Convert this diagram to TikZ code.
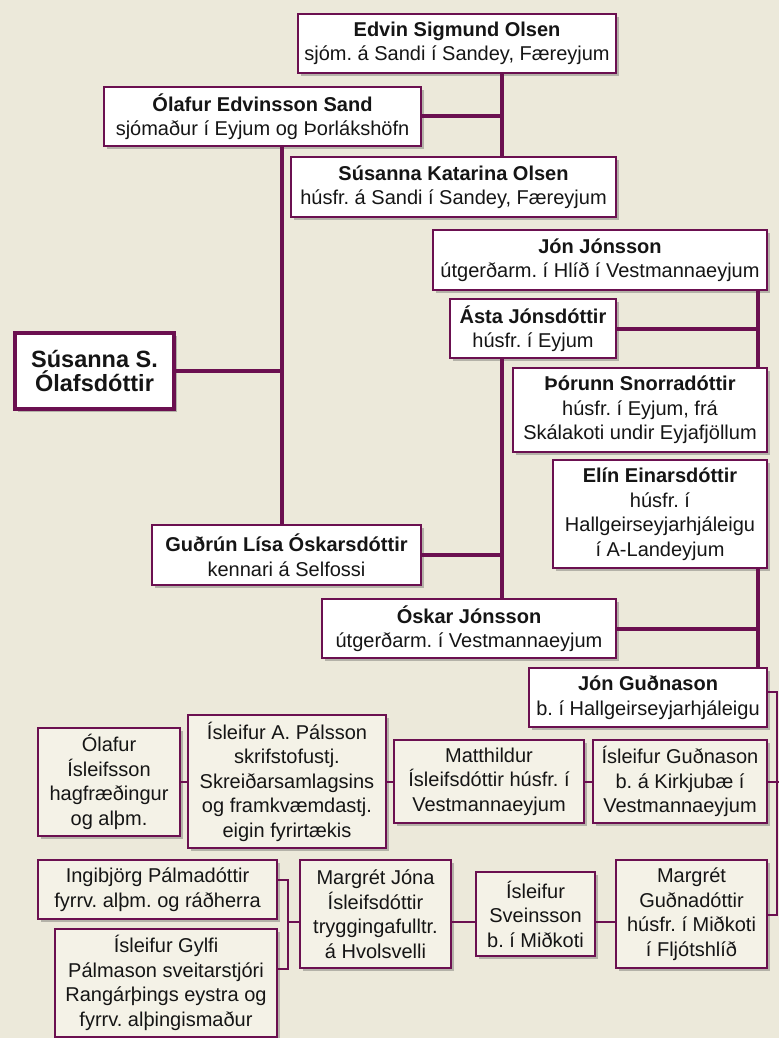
\documentclass[tikz,border=0pt]{standalone}
\usepackage{fontspec}
\setmainfont{Liberation Sans}
\usetikzlibrary{shadows}
\definecolor{bg}{HTML}{ECE9DA}
\definecolor{plum}{HTML}{6B1050}
\definecolor{cream}{HTML}{F4F2E7}
\definecolor{ink}{HTML}{151515}
\frenchspacing

\begin{document}
\begin{tikzpicture}[x=1pt, y=-1pt,
  card/.style={draw=plum, line width=1.3pt, align=center, inner sep=0pt, text=ink,
    font=\fontsize{20}{24.5}\selectfont,
    drop shadow={shadow xshift=3pt, shadow yshift=-3pt, opacity=.35, fill=black!70}},
  up/.style={card, fill=white},
  low/.style={card, fill=cream},
  link/.style={draw=plum, line width=4pt},
  thin/.style={draw=plum, line width=2pt}]
  \path[fill=bg] (0,0) rectangle (779,1038);
  % upper tree
  \node[up, minimum width=318pt, minimum height=59pt] (edvin) at (457,43.5) {\textbf{Edvin Sigmund Olsen}\\sjóm. á Sandi í Sandey, Færeyjum};
  \node[up, minimum width=317pt, minimum height=59pt] (olafE) at (262.5,116.5) {\textbf{Ólafur Edvinsson Sand}\\sjómaður í Eyjum og Þorlákshöfn};
  \node[up, minimum width=325pt, minimum height=60pt] (susK) at (453.5,187) {\textbf{Súsanna Katarina Olsen}\\húsfr. á Sandi í Sandey, Færeyjum};
  \node[up, minimum width=334pt, minimum height=60pt] (jonJ) at (600,260) {\textbf{Jón Jónsson}\\útgerðarm. í Hlíð í Vestmannaeyjum};
  \node[up, minimum width=166pt, minimum height=59pt] (asta) at (533,328.5) {\textbf{Ásta Jónsdóttir}\\húsfr. í Eyjum};
  \node[up, minimum width=254pt, minimum height=84pt] (thorunn) at (640,410) {\textbf{Þórunn Snorradóttir}\\húsfr. í Eyjum, frá\\Skálakoti undir Eyjafjöllum};
  \node[up, line width=3.5pt, minimum width=159pt, minimum height=76pt,
    font=\fontsize{23.5}{24}\selectfont\bfseries] (susS) at (94.5,371) {Súsanna S.\\Ólafsdóttir};
  \node[up, minimum width=214pt, minimum height=108pt] (elin) at (660,514) {\textbf{Elín Einarsdóttir}\\húsfr. í\\Hallgeirseyjarhjáleigu\\í A-Landeyjum};
  \node[up, minimum width=269pt, minimum height=60pt] (gudrun) at (286.5,555) {\textbf{Guðrún Lísa Óskarsdóttir}\\kennari á Selfossi};
  \node[up, minimum width=294pt, minimum height=59pt] (oskar) at (469,628.5) {\textbf{Óskar Jónsson}\\útgerðarm. í Vestmannaeyjum};
  \node[up, minimum width=238pt, minimum height=59pt] (jonG) at (648,697.5) {\textbf{Jón Guðnason}\\b. í Hallgeirseyjarhjáleigu};
  % lower rows
  \node[low, minimum width=142pt, minimum height=108pt] (olafI) at (109,782) {Ólafur\\Ísleifsson\\hagfræðingur\\og alþm.};
  \node[low, minimum width=198pt, minimum height=133pt] (isleifA) at (287,781.5) {Ísleifur A. Pálsson\\skrifstofustj.\\Skreiðarsamlagsins\\og framkvæmdastj.\\eigin fyrirtækis};
  \node[low, minimum width=190pt, minimum height=83pt] (matt) at (489,781.5) {Matthildur\\Ísleifsdóttir húsfr. í\\Vestmannaeyjum};
  \node[low, minimum width=174pt, minimum height=83pt] (isleifG) at (680,781.5) {Ísleifur Guðnason\\b. á Kirkjubæ í\\Vestmannaeyjum};
  \node[low, minimum width=239pt, minimum height=59pt] (ingi) at (157.5,889.5) {Ingibjörg Pálmadóttir\\fyrrv. alþm. og ráðherra};
  \node[low, minimum width=222pt, minimum height=108pt] (isleifGy) at (166,983) {Ísleifur Gylfi\\Pálmason sveitarstjóri\\Rangárþings eystra og\\fyrrv. alþingismaður};
  \node[low, minimum width=151pt, minimum height=108pt] (margJ) at (375.5,914) {Margrét Jóna\\Ísleifsdóttir\\tryggingafulltr.\\á Hvolsvelli};
  \node[low, minimum width=119pt, minimum height=84pt] (isleifS) at (535.5,914) {Ísleifur\\Sveinsson\\b. í Miðkoti};
  \node[low, minimum width=151pt, minimum height=108pt] (margG) at (691.5,914) {Margrét\\Guðnadóttir\\húsfr. í Miðkoti\\í Fljótshlíð};
  % junctions
  \coordinate (j1) at (502,117);
  \coordinate (j2) at (282,370);
  \coordinate (j3) at (758,328);
  \coordinate (j4) at (502,555);
  \coordinate (j5) at (758,628);
  \coordinate (j6) at (777,692);
  \coordinate (j7) at (777,915);
  \coordinate (j8) at (288,880);
  \coordinate (j9) at (288,969);
  \coordinate (j10) at (288,922);
  \coordinate (j11) at (779,782);
  % upper links
  \draw[link] (edvin.south -| j1) -- (susK.north -| j1);
  \draw[link] (olafE.east) -- (olafE.east -| j1);
  \draw[link] (olafE.south -| j2) -- (gudrun.north -| j2);
  \draw[link] (susS.east) -- (susS.east -| j2);
  \draw[link] (jonJ.south -| j3) -- (thorunn.north -| j3);
  \draw[link] (asta.east) -- (asta.east -| j3);
  \draw[link] (asta.south -| j4) -- (oskar.north -| j4);
  \draw[link] (gudrun.east) -- (gudrun.east -| j4);
  \draw[link] (elin.south -| j5) -- (jonG.north -| j5);
  \draw[link] (oskar.east) -- (oskar.east -| j5);
  % lower links
  \draw[thin] (jonG.east |- j6) -- (j6) -- (j7) -- (margG.east |- j7);
  \draw[thin] (isleifG.east |- j11) -- (j11);
  \draw[thin] (olafI.east) -- (isleifA.west |- olafI.east);
  \draw[thin] (isleifA.east) -- (matt.west);
  \draw[thin] (matt.east) -- (isleifG.west);
  \draw[thin] (ingi.east |- j8) -- (j8) -- (j9) -- (isleifGy.east |- j9);
  \draw[thin] (j10) -- (margJ.west |- j10);
  \draw[thin] (margJ.east |- j10) -- (isleifS.west |- j10);
  \draw[thin] (isleifS.east |- j10) -- (margG.west |- j10);
\end{tikzpicture}
\end{document}
